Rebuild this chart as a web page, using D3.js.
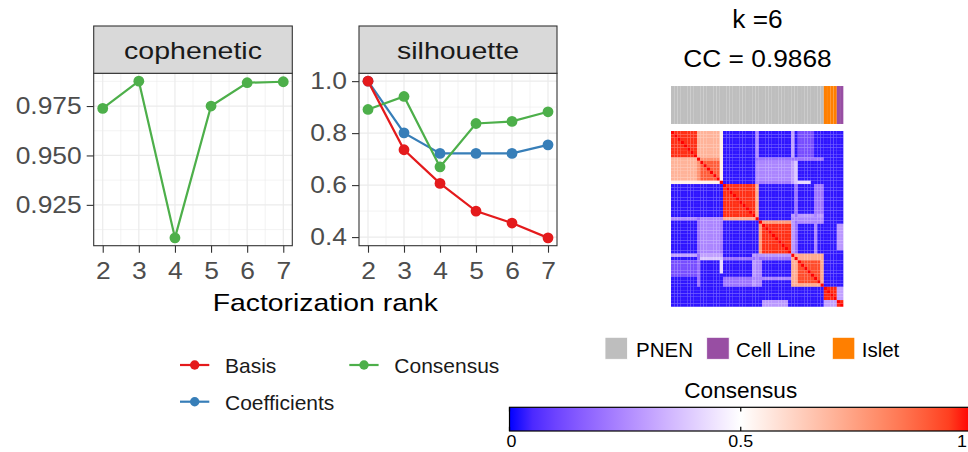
<!DOCTYPE html>
<html>
<head>
<meta charset="utf-8">
<script src="https://cdn.jsdelivr.net/npm/d3@7"></script>
<style>
  html, body { margin: 0; padding: 0; background: #ffffff; }
  svg { display: block; font-family: "Liberation Sans", Arial, Helvetica, sans-serif; }
</style>
</head>
<body>
<script>
// ---- NMF rank survey ----
const ranks = [2, 3, 4, 5, 6, 7];
const cophenetic = [0.9738, 0.9876, 0.9083, 0.9750, 0.9868, 0.9873];
const silBasis = [1.000, 0.736, 0.6065, 0.500, 0.454, 0.397];
const silCoef  = [1.000, 0.801, 0.722, 0.722, 0.722, 0.755];
const silCons  = [0.891, 0.941, 0.670, 0.837, 0.845, 0.882];
const copheneticTicks = [0.925, 0.950, 0.975];
const silhouetteTicks = [0.4, 0.6, 0.8, 1.0];
const seriesNames = ["Basis", "Coefficients", "Consensus"];
const seriesColors = ["#e41a1c", "#377eb8", "#4daf4a"];

// ---- consensus matrix for k = 6 ----
const nSamples = 53;
const sampleGroups = [["PNEN", 47], ["Islet", 4], ["Cell Line", 2]];
const groupLegend = ["PNEN", "Cell Line", "Islet"];
const groupColors = ["#bebebe", "#984ea3", "#ff7f00"];
const consensusBase = 0.02;
// [rowFrom, rowTo, colFrom, colTo, value]; mirrored across the diagonal
const consensusBlocks = [
  [0, 7, 0, 7, 0.97],
  [0, 7, 8, 14, 0.70],
  [8, 14, 8, 14, 0.78],
  [9, 14, 9, 14, 0.90],
  [15, 15, 0, 14, 0.54],
  [16, 25, 16, 25, 0.97],
  [26, 26, 16, 25, 0.72],
  [27, 36, 27, 36, 0.76],
  [28, 36, 28, 36, 0.97],
  [37, 46, 37, 46, 0.72],
  [39, 45, 39, 45, 0.93],
  [47, 50, 47, 50, 0.98],
  [51, 52, 51, 52, 0.98],
  [51, 52, 47, 50, 0.30],
  [9, 14, 27, 36, 0.24],
  [15, 15, 27, 36, 0.22],
  [15, 15, 37, 42, 0.42],
  [0, 15, 26, 26, 0.25],
  [0, 15, 37, 37, 0.30],
  [8, 8, 43, 46, 0.28],
  [26, 46, 8, 8, 0.20],
  [38, 38, 9, 15, 0.38],
  [39, 43, 0, 7, 0.12],
  [44, 46, 16, 25, 0.20],
  [25, 25, 37, 46, 0.28],
  [27, 27, 37, 46, 0.24],
  [25, 36, 37, 37, 0.28],
  [25, 36, 44, 44, 0.24],
  [38, 38, 16, 36, 0.20],
  [37, 46, 26, 26, 0.24],
  [51, 52, 28, 35, 0.28]
];
const consensusTicks = [0, 0.5, 1];

const W = 968, H = 452;
const svg = d3.select("body").append("svg").attr("width", W).attr("height", H);
svg.append("rect").attr("width", W).attr("height", H).attr("fill", "#ffffff");

function label(g, x, y, s, size, sx, anchor, fill) {
  return g.append("text")
    .attr("transform", `translate(${x},${y}) scale(${sx},1)`)
    .attr("text-anchor", anchor)
    .style("font-size", size + "px")
    .attr("fill", fill)
    .text(s);
}

// ---------- faceted line panels ----------
const panelTop = 73.3, panelBottom = 245.7, stripTop = 26;

function padDomain(vals) {
  const [lo, hi] = d3.extent(vals);
  const p = (hi - lo) * 0.05;
  return [lo - p, hi + p];
}

function facet(left, right, title, domain, ticks, fmt, series) {
  const g = svg.append("g");
  const x = d3.scaleLinear().domain([1.75, 7.25]).range([left, right]);
  const y = d3.scaleLinear().domain(domain).range([panelBottom, panelTop]);
  const step = ticks[1] - ticks[0];
  const minor = d3.range(ticks[0] - step / 2, domain[1], step).filter(v => v > domain[0]);
  const xMinor = ranks.slice(0, -1).map(r => r + 0.5);

  const grid = g.append("g").attr("fill", "none").attr("stroke", "#ebebeb");
  grid.selectAll(".ym").data(minor).join("line")
    .attr("x1", left).attr("x2", right).attr("y1", d => y(d)).attr("y2", d => y(d)).attr("stroke-width", 0.6);
  grid.selectAll(".xm").data(xMinor).join("line")
    .attr("y1", panelTop).attr("y2", panelBottom).attr("x1", d => x(d)).attr("x2", d => x(d)).attr("stroke-width", 0.6);
  grid.selectAll(".yM").data(ticks).join("line")
    .attr("x1", left).attr("x2", right).attr("y1", d => y(d)).attr("y2", d => y(d)).attr("stroke-width", 1.2);
  grid.selectAll(".xM").data(ranks).join("line")
    .attr("y1", panelTop).attr("y2", panelBottom).attr("x1", d => x(d)).attr("x2", d => x(d)).attr("stroke-width", 1.2);

  const line = d3.line().x((d, i) => x(ranks[i])).y(d => y(d));
  series.forEach(s => {
    g.append("path").datum(s.values).attr("d", line)
      .attr("fill", "none").attr("stroke", s.color).attr("stroke-width", 2.2);
  });
  series.forEach(s => {
    g.append("g").selectAll("circle").data(s.values).join("circle")
      .attr("cx", (d, i) => x(ranks[i])).attr("cy", d => y(d)).attr("r", 5.4)
      .attr("fill", s.color);
  });

  g.append("rect").attr("x", left).attr("y", panelTop)
    .attr("width", right - left).attr("height", panelBottom - panelTop)
    .attr("fill", "none").attr("stroke", "#333333").attr("stroke-width", 1.1);
  g.append("rect").attr("x", left).attr("y", stripTop)
    .attr("width", right - left).attr("height", panelTop - stripTop)
    .attr("fill", "#d9d9d9").attr("stroke", "#333333").attr("stroke-width", 1.1);
  label(g, (left + right) / 2, 59.3, title, 23, 1.24, "middle", "#1a1a1a");

  const sx = 1.1;
  const ya = g.append("g").attr("transform", `translate(${left},0)`)
    .call(d3.axisLeft(y).tickValues(ticks).tickFormat(fmt).tickSize(7).tickPadding(5));
  const xa = g.append("g").attr("transform", `translate(0,${panelBottom})`)
    .call(d3.axisBottom(x).tickValues(ranks).tickFormat(d3.format("d")).tickSize(7).tickPadding(9));
  [ya, xa].forEach(a => {
    a.select(".domain").remove();
    a.selectAll(".tick line").attr("stroke", "#333333").attr("stroke-width", 1.1);
    a.selectAll(".tick text").attr("fill", "#4d4d4d").style("font-size", "24px");
    a.attr("font-family", null).attr("font-size", null);
  });
  ya.selectAll(".tick text").attr("x", -12 / sx).attr("transform", `scale(${sx},1)`);
  xa.selectAll(".tick text").attr("transform", `scale(${sx},1)`);
}

facet(93.7, 292.3, "cophenetic", padDomain(cophenetic), copheneticTicks, d3.format(".3f"),
  [{ values: cophenetic, color: seriesColors[2] }]);
facet(359, 557, "silhouette", padDomain(silBasis.concat(silCoef, silCons)), silhouetteTicks, d3.format(".1f"),
  [{ values: silCoef, color: seriesColors[1] },
   { values: silCons, color: seriesColors[2] },
   { values: silBasis, color: seriesColors[0] }]);

label(svg, 325.3, 310.7, "Factorization rank", 24, 1.18, "middle", "#000000");

// line legend (two columns)
const legendPos = [[180, 365], [180, 401.7], [349.3, 365]];
seriesNames.forEach((name, i) => {
  const [lx, ly] = legendPos[i];
  const lg = svg.append("g");
  lg.append("line").attr("x1", lx).attr("x2", lx + 29.3).attr("y1", ly).attr("y2", ly)
    .attr("stroke", seriesColors[i]).attr("stroke-width", 2.2);
  lg.append("circle").attr("cx", lx + 14.7).attr("cy", ly).attr("r", 4.7).attr("fill", seriesColors[i]);
  label(lg, lx + 45, ly + 8.3, name, 21, 1, "start", "#1a1a1a");
});

// ---------- consensus heatmap ----------
const matrix = d3.range(nSamples).map(() => new Array(nSamples).fill(consensusBase));
consensusBlocks.forEach(([r0, r1, c0, c1, v]) => {
  for (let r = r0; r <= r1; r++) for (let c = c0; c <= c1; c++) {
    matrix[r][c] = v; matrix[c][r] = v;
  }
});
for (let i = 0; i < nSamples; i++) matrix[i][i] = 1;
const cells = [];
matrix.forEach((row, r) => row.forEach((v, c) => cells.push({ r, c, v })));

const hx = d3.scaleBand().domain(d3.range(nSamples)).range([671, 843.3]);
const hy = d3.scaleBand().domain(d3.range(nSamples)).range([131, 306.7]);
const color = d3.scaleLinear().domain(consensusTicks).range(["#0000ff", "#ffffff", "#ff0000"])
  .interpolate(d3.interpolateLab);

svg.append("g").selectAll("rect").data(cells).join("rect")
  .attr("x", d => hx(d.c)).attr("y", d => hy(d.r))
  .attr("width", hx.bandwidth() + 0.05).attr("height", hy.bandwidth() + 0.05)
  .attr("fill", d => color(d.v))
  .attr("stroke", "#ffffff").attr("stroke-opacity", 0.05).attr("stroke-width", 0.5);

const sampleType = sampleGroups.flatMap(([name, n]) => new Array(n).fill(name));
const typeColor = d3.scaleOrdinal().domain(groupLegend).range(groupColors);
svg.append("g").selectAll("rect").data(sampleType).join("rect")
  .attr("x", (d, i) => hx(i)).attr("y", 86)
  .attr("width", hx.bandwidth() + 0.05).attr("height", 38)
  .attr("fill", d => typeColor(d))
  .attr("stroke", "#ffffff").attr("stroke-opacity", 0.07).attr("stroke-width", 0.5);

label(svg, 757.5, 28.3, "k =6", 25, 1.05, "middle", "#000000");
label(svg, 757.5, 66.7, "CC = " + d3.format(".4f")(cophenetic[ranks.indexOf(6)]), 23.5, 1.12, "middle", "#000000");

// sample type legend
const typeLegendX = [605, 706.7, 832.3];
const typeLabelX = [636, 736, 861.7];
groupLegend.forEach((name, i) => {
  svg.append("rect").attr("x", typeLegendX[i]).attr("y", 337.3).attr("width", 22.5).attr("height", 22)
    .attr("fill", typeColor(name)).attr("stroke", "#ffffff").attr("stroke-width", 0.8);
  label(svg, typeLabelX[i], 356.7, name, 20.5, 1, "start", "#000000");
});

// colour bar
const cbx = d3.scaleLinear().domain([0, 1]).range([509.5, 972]);
const defs = svg.append("defs");
const grad = defs.append("linearGradient").attr("id", "cgrad")
  .attr("gradientUnits", "userSpaceOnUse").attr("x1", cbx(0)).attr("x2", cbx(1)).attr("y1", 0).attr("y2", 0);
d3.range(0, 1.0001, 0.05).forEach(t => {
  grad.append("stop").attr("offset", t).attr("stop-color", color(t));
});
svg.append("rect").attr("x", cbx(0)).attr("y", 407.3).attr("width", cbx(1) - cbx(0)).attr("height", 23.7)
  .attr("fill", "url(#cgrad)").attr("stroke", "#000000").attr("stroke-width", 1.2);
const cbt = svg.append("g");
consensusTicks.forEach(t => {
  cbt.append("line").attr("x1", cbx(t)).attr("x2", cbx(t)).attr("y1", 407.3).attr("y2", 411.5)
    .attr("stroke", "#000").attr("stroke-width", 1.2);
  cbt.append("line").attr("x1", cbx(t)).attr("x2", cbx(t)).attr("y1", 426.8).attr("y2", 431)
    .attr("stroke", "#000").attr("stroke-width", 1.2);
  const lx = t === 0 ? cbx(t) + 2 : t === 1 ? W - 1 : cbx(t);
  label(cbt, lx, 447, d3.format("")(t), 17, 1.05, t === 1 ? "end" : "middle", "#000000");
});
label(svg, cbx(0.5), 397.7, "Consensus", 21.5, 1.05, "middle", "#000000");
</script>
</body>
</html>
